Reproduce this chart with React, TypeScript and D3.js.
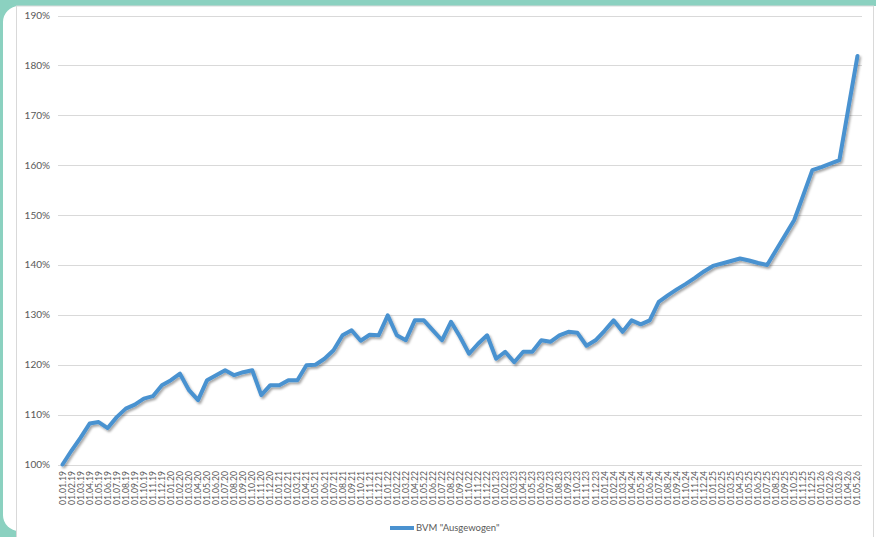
import { useEffect, useRef } from "react";
import * as d3 from "d3";

// monthly dates 01.01.19 .. 01.05.26
const dates: string[] = [
  "01.01.19", "01.02.19", "01.03.19", "01.04.19", "01.05.19", "01.06.19", "01.07.19", "01.08.19", "01.09.19", "01.10.19", "01.11.19", "01.12.19",
  "01.01.20", "01.02.20", "01.03.20", "01.04.20", "01.05.20", "01.06.20", "01.07.20", "01.08.20", "01.09.20", "01.10.20", "01.11.20", "01.12.20",
  "01.01.21", "01.02.21", "01.03.21", "01.04.21", "01.05.21", "01.06.21", "01.07.21", "01.08.21", "01.09.21", "01.10.21", "01.11.21", "01.12.21",
  "01.01.22", "01.02.22", "01.03.22", "01.04.22", "01.05.22", "01.06.22", "01.07.22", "01.08.22", "01.09.22", "01.10.22", "01.11.22", "01.12.22",
  "01.01.23", "01.02.23", "01.03.23", "01.04.23", "01.05.23", "01.06.23", "01.07.23", "01.08.23", "01.09.23", "01.10.23", "01.11.23", "01.12.23",
  "01.01.24", "01.02.24", "01.03.24", "01.04.24", "01.05.24", "01.06.24", "01.07.24", "01.08.24", "01.09.24", "01.10.24", "01.11.24", "01.12.24",
  "01.01.25", "01.02.25", "01.03.25", "01.04.25", "01.05.25", "01.06.25", "01.07.25", "01.08.25", "01.09.25", "01.10.25", "01.11.25", "01.12.25",
  "01.01.26", "01.02.26", "01.03.26", "01.04.26", "01.05.26",
];

// BVM "Ausgewogen", indexed (percent)
const ausgewogen: number[] = [
  100.0, 102.8, 105.4, 108.2, 108.5, 107.3, 109.5, 111.2, 112.0, 113.2, 113.7, 115.9,
  116.9, 118.2, 114.9, 112.9, 116.9, 117.9, 118.9, 117.9, 118.5, 118.9, 113.9, 115.9,
  115.9, 116.9, 116.9, 119.9, 120.0, 121.2, 122.9, 125.9, 126.9, 124.8, 126.0, 125.9,
  129.9, 125.9, 124.9, 128.9, 128.9, 126.9, 124.9, 128.6, 125.6, 122.2, 124.2, 125.9,
  121.2, 122.6, 120.5, 122.6, 122.6, 124.9, 124.6, 125.9, 126.6, 126.4, 123.8, 124.9,
  126.8, 128.9, 126.6, 128.9, 128.1, 128.9, 132.6, 133.9, 135.1, 136.2, 137.4, 138.7,
  139.8, 140.3, 140.8, 141.3, 140.9, 140.4, 140.0, 143.0, 146.0, 149.0, 154.0, 159.0,
  159.6, 160.3, 161.0, 171.5, 181.9,
];

const yTicks: number[] = [100, 110, 120, 130, 140, 150, 160, 170, 180, 190];
const seriesName = 'BVM "Ausgewogen"';

export default function App() {
  const svgRef = useRef<SVGSVGElement>(null);

  useEffect(() => {
    if (!svgRef.current) return;
    const svg = d3.select(svgRef.current);
    svg.selectAll("*").remove();

    const W = 876;
    const H = 537;
    const font = "Lato, 'Open Sans', sans-serif";
    const blue = "#4a92d0";
    const textColor = "#595959";

    // shadow for the line
    const defs = svg.append("defs");
    const f = defs
      .append("filter")
      .attr("id", "shadow")
      .attr("x", "-5%")
      .attr("y", "-5%")
      .attr("width", "110%")
      .attr("height", "110%");
    f.append("feDropShadow")
      .attr("dx", 1.5)
      .attr("dy", 2)
      .attr("stdDeviation", 1.2)
      .attr("flood-color", "#000")
      .attr("flood-opacity", 0.35);

    // frame
    svg.append("rect").attr("width", W).attr("height", H).attr("fill", "#8bd1c0");
    svg
      .append("rect")
      .attr("x", 3)
      .attr("y", 6)
      .attr("width", W + 20)
      .attr("height", 525)
      .attr("rx", 16)
      .attr("fill", "#fff");
    svg
      .append("rect")
      .attr("x", 16.5)
      .attr("y", 6)
      .attr("width", 857)
      .attr("height", H)
      .attr("fill", "#fff")
      .attr("stroke", "#d9d9d9")
      .attr("stroke-width", 1);
    svg.append("rect").attr("x", 874).attr("y", 6).attr("width", 2).attr("height", H).attr("fill", "#fff");

    // Scales
    const x = d3.scalePoint<string>().domain(dates).range([58, 862]).padding(0.5);
    const y = d3.scaleLinear().domain([100, 190]).range([464.5, 15.5]);

    // gridlines
    svg
      .append("g")
      .selectAll("line")
      .data(yTicks)
      .join("line")
      .attr("x1", 58)
      .attr("x2", 862)
      .attr("y1", (d) => Math.round(y(d)) + 0.5)
      .attr("y2", (d) => Math.round(y(d)) + 0.5)
      .attr("stroke", "#d9d9d9")
      .attr("stroke-width", 1);

    // y labels
    svg
      .append("g")
      .selectAll("text")
      .data(yTicks)
      .join("text")
      .attr("x", 50)
      .attr("y", (d) => y(d))
      .attr("dy", "0.35em")
      .attr("text-anchor", "end")
      .style("font-family", font)
      .style("font-size", "10px")
      .style("fill", textColor)
      .text((d) => `${d}%`);

    // x labels
    svg
      .append("g")
      .selectAll("text")
      .data(dates)
      .join("text")
      .attr("transform", (d) => `translate(${x(d)},471) rotate(-90)`)
      .attr("dy", "0.35em")
      .attr("text-anchor", "end")
      .style("font-family", font)
      .style("font-size", "8.6px")
      .style("fill", textColor)
      .text((d) => d);

    // Line
    const line = d3
      .line<number>()
      .x((_, i) => x(dates[i]) as number)
      .y((d) => y(d));

    svg
      .append("path")
      .datum(ausgewogen)
      .attr("d", line)
      .attr("fill", "none")
      .attr("stroke", blue)
      .attr("stroke-width", 4)
      .attr("stroke-linejoin", "round")
      .attr("stroke-linecap", "round")
      .attr("filter", "url(#shadow)");

    // Legend
    svg
      .append("line")
      .attr("x1", 390)
      .attr("x2", 414)
      .attr("y1", 528)
      .attr("y2", 528)
      .attr("stroke", blue)
      .attr("stroke-width", 4);
    svg
      .append("text")
      .attr("x", 416)
      .attr("y", 528)
      .attr("dy", "0.35em")
      .style("font-family", font)
      .style("font-size", "9.5px")
      .style("fill", textColor)
      .text(seriesName);
  }, []);

  return (
    <svg
      ref={svgRef}
      width="876"
      height="537"
      style={{ position: "fixed", top: 0, left: 0, display: "block" }}
    />
  );
}
